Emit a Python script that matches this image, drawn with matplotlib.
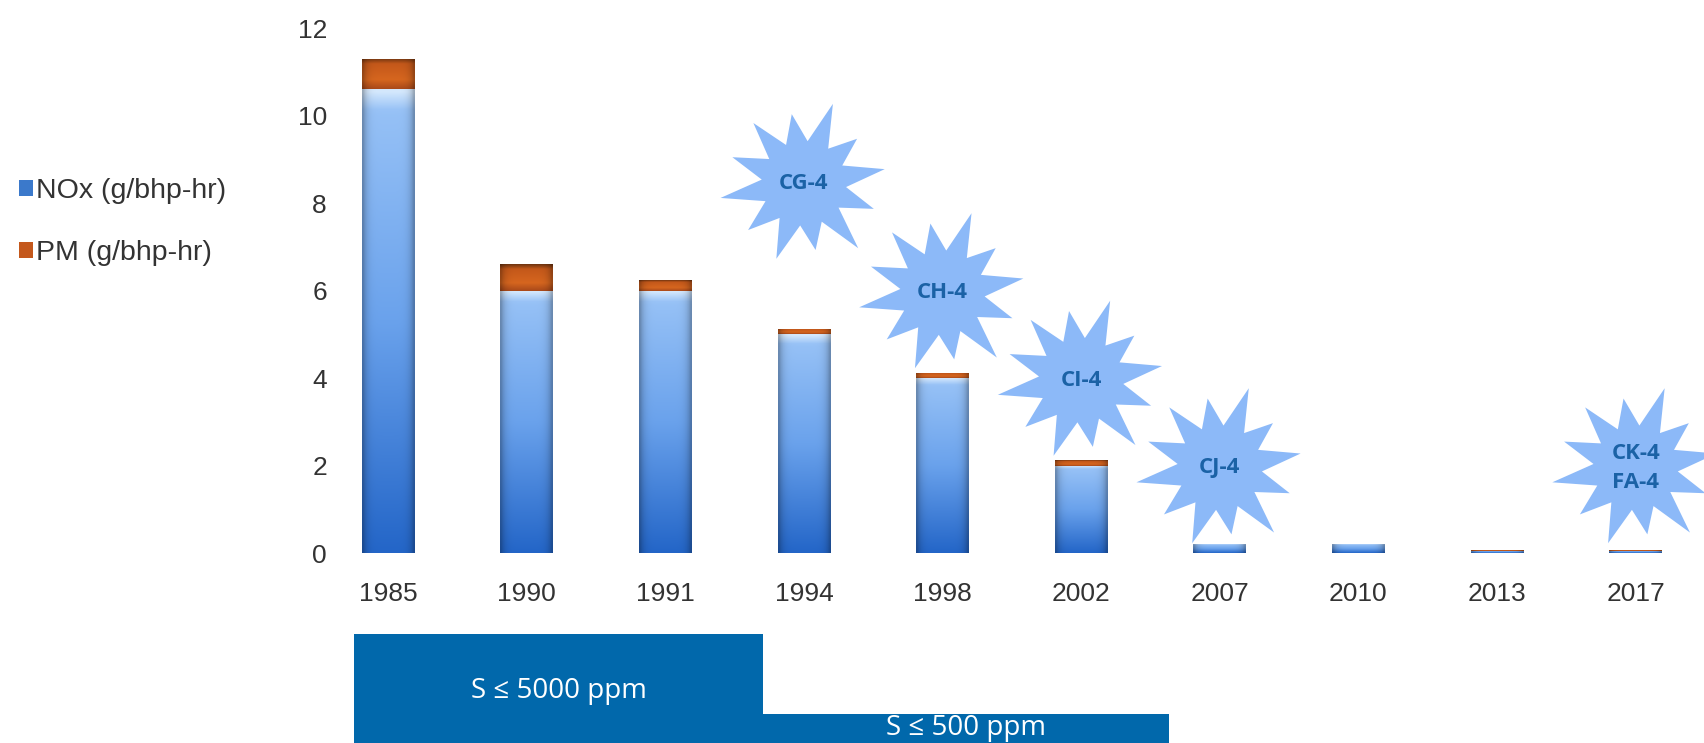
"""Heavy-duty diesel NOx / PM limits by year, with oil category call-outs."""

import matplotlib

matplotlib.use("Agg")
import matplotlib.pyplot as plt
import numpy as np
from matplotlib.colors import to_rgb
from matplotlib.patches import Patch, Rectangle
from matplotlib.path import Path
from matplotlib.transforms import blended_transform_factory

years = ["1985", "1990", "1991", "1994", "1998", "2002", "2007", "2010", "2013", "2017"]
nox = [10.6, 6.0, 6.0, 5.0, 4.0, 2.0, 0.2, 0.2, 0.05, 0.05]
pm = [0.7, 0.6, 0.25, 0.12, 0.12, 0.12, 0.01, 0.01, 0.01, 0.01]

oil_labels = ["CG-4", "CH-4", "CI-4", "CJ-4", "CK-4\nFA-4"]
oil_years = ["1994", "1998", "2002", "2007", "2017"]
oil_y = [8.45, 5.95, 3.95, 1.95, 1.95]

sulfur_labels = ["S \u2264 5000 ppm", "S \u2264 500 ppm"]
sulfur_start = ["1985", "1991"]
sulfur_end = ["1991", "2002"]

plt.rcParams["font.family"] = ["Liberation Sans", "DejaVu Sans"]

NOX_STOPS = [(0.0, "#d4e8fd"), (0.04, "#96c1f6"), (0.5, "#6aa2ec"), (1.0, "#2466c8")]
PM_STOPS = [(0.0, "#6e3410"), (0.18, "#c4581a"), (0.7, "#d6661f"), (1.0, "#a9491a")]


def gradient(stops, n=80):
    t = np.linspace(0, 1, n)
    pos = [p for p, _ in stops]
    rgb = np.array([to_rgb(c) for _, c in stops])
    return np.stack([np.interp(t, pos, rgb[:, k]) for k in range(3)], axis=1)


def shade_bars(ax, bars, stops):
    col = gradient(stops)
    xs = np.linspace(-1, 1, 24)
    edge = 1 - 0.28 * np.abs(xs) ** 6
    img = col[:, None, :] * edge[None, :, None]
    for patch in bars:
        x0, y0 = patch.get_x(), patch.get_y()
        w, h = patch.get_width(), patch.get_height()
        patch.set_facecolor("none")
        patch.set_edgecolor("none")
        im = ax.imshow(img, extent=(x0, x0 + w, y0, y0 + h), origin="upper",
                       aspect="auto", zorder=2, interpolation="bilinear")
        im.set_clip_path(patch)


def star_marker():
    outer = [1.0, 0.82, 0.97, 0.88, 1.0, 0.8, 0.95, 0.86, 1.0, 0.9, 0.93, 0.83]
    verts = []
    n = len(outer)
    for i, r in enumerate(outer):
        a = np.pi / 2 - 0.35 - 2 * np.pi * i / n
        verts.append((r * np.cos(a), r * np.sin(a)))
        a2 = a - np.pi / n
        verts.append((0.5 * np.cos(a2), 0.5 * np.sin(a2)))
    verts.append(verts[0])
    return Path(verts, closed=True)


fig = plt.figure(figsize=(17.04, 7.43), dpi=100)
ax = fig.add_axes([0.2033, 0.2557, 0.7932, 0.7066])

x = np.arange(len(years))
nox_bars = ax.bar(x, nox, width=0.38, zorder=2)
pm_bars = ax.bar(x, pm, bottom=nox, width=0.38, zorder=2)
shade_bars(ax, nox_bars, NOX_STOPS)
shade_bars(ax, pm_bars, PM_STOPS)

ax.set_xlim(-0.3, 9.45)
ax.set_ylim(0, 12)
ax.set_yticks(range(0, 13, 2))
ax.set_xticks(x, years)
ax.tick_params(length=0, labelsize=19, colors="#333333")
ax.tick_params(axis="y", pad=14)
ax.tick_params(axis="x", pad=21)
for s in ax.spines.values():
    s.set_visible(False)

# oil category starbursts
star = star_marker()
sx = [years.index(y) for y in oil_years]
ax.scatter(sx, oil_y, s=120 ** 2, marker=star, color="#8cb9f8",
           edgecolors="none", zorder=5, clip_on=False)
for xi, yi, lab in zip(sx, oil_y, oil_labels):
    ax.text(xi, yi, lab, ha="center", va="center", fontsize=16, fontweight="bold",
            color="#1b62a6", family="Open Sans", linespacing=1.5, zorder=6,
            clip_on=False)

# sulfur limit boxes under the axis
trans = blended_transform_factory(ax.transData, fig.transFigure)
box_tops = [0.1467, 0.039]
text_y = [0.070, 0.020]
for lab, a, b, top, ty in zip(sulfur_labels, sulfur_start, sulfur_end, box_tops, text_y):
    x0 = years.index(a) - 0.245 if a == years[0] else years.index(a) + 0.706
    x1 = years.index(b) + 0.706 if b == "1991" else years.index(b) + 0.635
    fig.patches.append(Rectangle((x0, -0.01), x1 - x0, top + 0.01, transform=trans,
                                 facecolor="#0168ab", edgecolor="none"))
    fig.text((x0 + x1) / 2, ty, lab, transform=trans, ha="center", va="center",
             color="white", fontsize=20, family="Open Sans")

handles = [Patch(facecolor="#3b79cb"), Patch(facecolor="#c4581c")]
fig.legend(handles, ["NOx (g/bhp-hr)", "PM (g/bhp-hr)"], loc="upper left",
           bbox_to_anchor=(-0.004, 1 - 160 / 743 + 0.01), frameon=False, fontsize=20.5,
           handlelength=0.5, handleheight=0.5, handletextpad=0.1,
           labelspacing=1.25, labelcolor="#333333")

fig.savefig("out.png", dpi=100)
